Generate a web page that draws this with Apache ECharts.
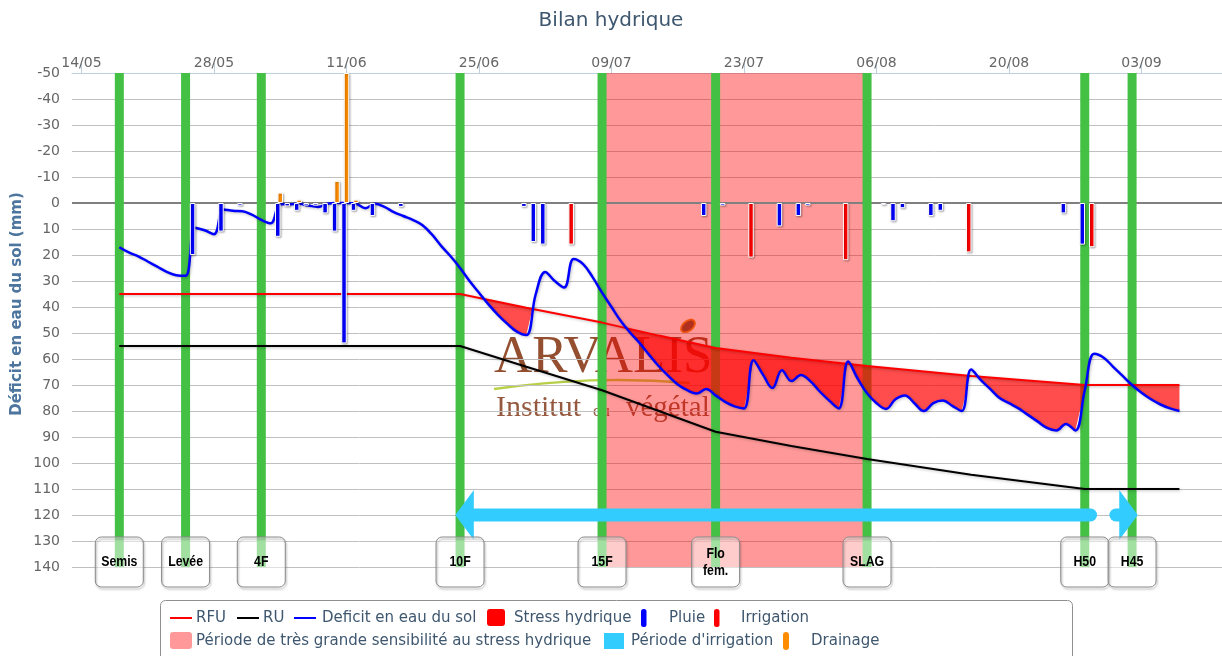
<!DOCTYPE html>
<html>
<head>
<meta charset="utf-8">
<title>Bilan hydrique</title>
<script src="https://cdn.jsdelivr.net/npm/echarts@6/dist/echarts.min.js"></script>
<style>
html, body { margin: 0; padding: 0; background: #fff; }
#chart { width: 1222px; height: 656px; }
</style>
</head>
<body>
<div id="chart"></div>
<script>
// days are counted from 13/05 (day 0)
var dateTicks = [1, 15, 29, 43, 57, 71, 85, 99, 113];
var dateLabels = ['14/05', '28/05', '11/06', '25/06', '09/07', '23/07', '06/08', '20/08', '03/09'];

var stageDays = [5, 12, 20, 41, 56, 68, 84, 107, 112];
var stageNames = ['Semis', 'Levée', '4F', '10F', '15F', 'Flo\nfem.', 'SLAG', 'H50', 'H45'];

// période de très grande sensibilité
var sensFrom = 56;
var sensTo = 84;

// période d'irrigation (two arrows)
var irrigFrom = [40.5, 109.6];
var irrigTo = [108.3, 112.6];
var irrigHead = [0, 1]; // 0 = head at start, 1 = head at end
var irrigLevel = 120;

var rfuDays = [5, 41, 48, 56, 62, 68, 76, 84, 95, 107, 117];
var rfuVals = [35, 35, 40.3, 46, 51, 55.8, 59.5, 62.7, 66.5, 70, 70];
var ruDays = [5, 41, 48, 56, 62, 68, 76, 84, 95, 107, 117];
var ruVals = [55, 55, 63, 72, 80, 88, 93.5, 98.5, 104.5, 110, 110];

var deficitFirstDay = 5;
var deficit = [
  17, 19, 20.5, 22.5, 24.5, 26.5, 27.8, 28, 9.5, 10.5,     // d5-14
  12, 2.5, 3, 3.2, 4.5, 6.5, 7.8, 0.5, 0.5, 0.3,           // d15-24
  1, 1.5, 0.3, 0, 0, 0.3, 2, 0.3, 1.5, 3.5,                // d25-34
  5, 6.5, 8.5, 12, 16.5, 20.5, 25, 30, 34.5, 39,           // d35-44
  43, 46.5, 49.5, 50.8, 35, 26.5, 30, 32.5, 21.5, 23.5,    // d45-54
  28.5, 34.5, 40, 45.5, 50, 54, 58.5, 62.8, 66.5, 69.8,    // d55-64
  72, 73.3, 71.5, 74, 76.5, 78.2, 79, 60.5, 66, 71.2,      // d65-74
  64.3, 68.5, 66.2, 68.5, 72.5, 76, 79, 61, 67.5, 73.2,    // d75-84
  77, 79.2, 75.5, 74, 77, 80, 77, 76, 78, 80,              // d85-94
  64, 68, 71.5, 75, 77, 79, 81.5, 84, 86.5, 87.5,          // d95-104
  85, 87.5, 72, 58, 59.5, 63, 66.5, 70, 73, 75.5,          // d105-114
  77.5, 79, 80                                              // d115-117
];

var rainDays = [12, 15, 17, 21, 22, 23, 24, 25, 26, 27, 28, 29, 31, 34, 47, 48, 49, 66, 68, 74, 76, 77, 85, 86, 87, 90, 91, 104, 106];
var rainVals = [20, 11, 1, 13, 1.3, 3, 1, 1, 4, 11, 54, 3, 5, 1.5, 1.5, 15, 16, 5, 1, 9, 5, 1, 0.7, 7, 2, 5, 3, 4, 16];
var irrigDays = [52, 71, 81, 94, 107];
var irrigVals = [16, 21, 22, 19, 17];
var drainDays = [21, 23, 27, 28, 29];
var drainVals = [-4, -1.3, -8.5, -50, -1.3];

var FONT = 'DejaVu Sans';
var RAIN_SHIFT = 0.74;
var DRAIN_SHIFT = 1.0;

function pairs(days, vals, shift) {
  return days.map(function (d, i) { return [d + (shift || 0), vals[i]]; });
}

function rfuAt(d) {
  for (var i = 1; i < rfuDays.length; i++) {
    if (d <= rfuDays[i]) {
      var t = (d - rfuDays[i - 1]) / (rfuDays[i] - rfuDays[i - 1]);
      return rfuVals[i - 1] + t * (rfuVals[i] - rfuVals[i - 1]);
    }
  }
  return rfuVals[rfuVals.length - 1];
}

// areas where the deficit is bigger than RFU
function stressPolygons() {
  var polys = [], top = [], bot = [];
  for (var i = 0; i < deficit.length; i++) {
    var d = deficitFirstDay + i, v = deficit[i], r = rfuAt(d), diff = v - r;
    if (i > 0) {
      var pd = d - 1, pv = deficit[i - 1], pdiff = pv - rfuAt(pd);
      if ((pdiff > 0) !== (diff > 0)) {
        var t = pdiff / (pdiff - diff);
        var cp = [pd + t, pv + t * (v - pv)];
        top.push(cp); bot.push(cp);
        if (pdiff > 0) {
          polys.push(top.concat(bot.reverse()));
          top = []; bot = [];
        }
      }
    }
    if (diff > 0) { top.push([d, v]); bot.push([d, r]); }
  }
  if (top.length) polys.push(top.concat(bot.reverse()));
  return polys;
}

var chart = echarts.init(document.getElementById('chart'));

var barStyle = function (color) {
  return {
    color: color, borderColor: '#fff', borderWidth: 1,
    shadowColor: 'rgba(0,0,0,0.3)', shadowBlur: 2, shadowOffsetX: 1, shadowOffsetY: 1
  };
};
var lineShadow = { shadowColor: 'rgba(0,0,0,0.25)', shadowBlur: 3, shadowOffsetX: 1, shadowOffsetY: 1 };

// legend drawn by hand, two rows
function lgText(x, y, s) {
  return { type: 'text', x: x, y: y, style: { text: s, fontSize: 15, fontFamily: FONT, fill: '#3E576F', verticalAlign: 'middle' } };
}
function lgLine(x, y, c) {
  return { type: 'line', shape: { x1: x, y1: y, x2: x + 22, y2: y }, style: { stroke: c, lineWidth: 2 } };
}
function lgRect(x, y, w, h, r, c) {
  return { type: 'rect', shape: { x: x, y: y, width: w, height: h, r: r }, style: { fill: c } };
}
var legendEls = [
  { type: 'rect', shape: { x: 160.5, y: 600.5, width: 912, height: 70, r: 5 }, style: { fill: '#fff', stroke: '#909090', lineWidth: 1 } },
  lgLine(170, 618, '#ff0000'), lgText(196, 618, 'RFU'),
  lgLine(237, 618, '#000000'), lgText(263, 618, 'RU'),
  lgLine(294, 618, '#0000ff'), lgText(322, 618, 'Deficit en eau du sol'),
  lgRect(487, 609, 18, 17, 3, '#ff0000'), lgText(514, 618, 'Stress hydrique'),
  lgRect(641, 609, 5.5, 18, 2.5, '#0000ff'), lgText(669, 618, 'Pluie'),
  lgRect(714, 609, 5.5, 18, 2.5, '#ff0000'), lgText(741, 618, 'Irrigation'),
  lgRect(170, 632, 22, 17, 3, 'rgba(255,0,0,0.4)'), lgText(196, 641, 'Période de très grande sensibilité au stress hydrique'),
  lgRect(604, 633, 20, 16, 0, '#33ccff'), lgText(631, 641, "Période d'irrigation"),
  lgRect(783, 632, 6, 18, 3, '#ff8c00'), lgText(811, 641, 'Drainage')
];

// ARVALIS watermark
var SERIF = 'Liberation Serif';
var logoEls = [
  { type: 'text', x: 494, y: 358, z: 0, style: { text: 'ARVALIS', fontSize: 53, fontFamily: SERIF, fill: 'rgba(128,48,10,0.85)', verticalAlign: 'middle' } },
  { type: 'ellipse', x: 688, y: 326, rotation: 0.7, z: 0, shape: { cx: 0, cy: 0, rx: 8, ry: 5 }, style: { fill: 'rgba(110,60,30,0.9)', stroke: 'rgba(230,140,20,0.9)', lineWidth: 2 } },
  { type: 'bezierCurve', z: 0, shape: { x1: 494, y1: 389, cpx1: 560, cpy1: 380, x2: 690, y2: 383, cpx2: 620, cpy2: 377 }, style: { stroke: 'rgba(170,200,40,0.85)', lineWidth: 2.5, fill: null } },
  { type: 'text', x: 496, y: 408, z: 0, style: { text: 'Institut', fontSize: 30, fontFamily: SERIF, fill: 'rgba(130,60,30,0.85)', verticalAlign: 'middle' } },
  { type: 'text', x: 593, y: 412, z: 0, style: { text: 'du', fontSize: 17, fontFamily: SERIF, fill: 'rgba(130,60,30,0.85)', verticalAlign: 'middle' } },
  { type: 'text', x: 626, y: 408, z: 0, style: { text: 'végétal', fontSize: 29, fontFamily: SERIF, fill: 'rgba(130,60,30,0.85)', verticalAlign: 'middle' } }
];

var option = {
  animation: false,
  backgroundColor: '#fff',
  title: {
    text: 'Bilan hydrique', left: 'center', top: 6,
    textStyle: { fontSize: 20, fontWeight: 'normal', color: '#3E576F', fontFamily: FONT }
  },
  grid: { left: 72, right: 0, top: 73, bottom: 89 },
  xAxis: {
    type: 'value', position: 'top', min: 0, max: 121.5,
    axisLine: { show: true, onZero: false, lineStyle: { color: '#C0D0E0', width: 1 } },
    axisTick: { show: true, length: 10, customValues: dateTicks, lineStyle: { color: '#C0D0E0' } },
    axisLabel: {
      customValues: dateTicks, margin: 3, fontSize: 14, fontFamily: FONT, color: '#666',
      formatter: function (v) { return dateLabels[dateTicks.indexOf(v)]; }
    },
    splitLine: { show: false }
  },
  yAxis: {
    type: 'value', inverse: true, min: -50, max: 140, interval: 10,
    axisLine: { show: false }, axisTick: { show: false },
    axisLabel: { margin: 12, fontSize: 14, fontFamily: FONT, color: '#666' },
    splitLine: { lineStyle: { color: '#C0C0C0', width: 1 } }
  },
  graphic: [
    {
      type: 'text', x: 17, y: 304, rotation: Math.PI / 2,
      style: { text: 'Déficit en eau du sol (mm)', fontSize: 15, fontWeight: 'bold', fontFamily: FONT, fill: '#4D759E', align: 'center', verticalAlign: 'middle' }
    }
  ].concat(logoEls, legendEls),
  series: [
    {
      name: 'Période de très grande sensibilité au stress hydrique', type: 'custom', z: 1, silent: true,
      data: [[sensFrom, sensTo]],
      renderItem: function (params, api) {
        var a = api.coord([api.value(0), -50]), b = api.coord([api.value(1), 140]);
        return { type: 'rect', shape: { x: a[0], y: a[1], width: b[0] - a[0], height: b[1] - a[1] }, style: { fill: 'rgba(255,0,0,0.4)' } };
      }
    },
    {
      name: 'zero', type: 'custom', z: 1, silent: true,
      data: [[0, 0]],
      renderItem: function (params, api) {
        var cs = params.coordSys, y = api.coord([0, 0])[1];
        return { type: 'line', shape: { x1: cs.x, y1: y, x2: cs.x + cs.width, y2: y }, style: { stroke: '#808080', lineWidth: 2 } };
      }
    },
    {
      name: 'stades', type: 'custom', z: 2, silent: true,
      data: stageDays.map(function (d) { return [d, 0]; }),
      renderItem: function (params, api) {
        var a = api.coord([api.value(0), -50]), b = api.coord([api.value(0), 140]);
        return { type: 'rect', shape: { x: a[0] - 4.5, y: a[1], width: 9, height: b[1] - a[1] }, style: { fill: '#44c044' } };
      }
    },
    {
      name: 'Stress hydrique', type: 'custom', z: 3, silent: true,
      data: [[deficitFirstDay, 0]],
      renderItem: function (params, api) {
        return {
          type: 'group',
          children: stressPolygons().map(function (pts) {
            return { type: 'polygon', shape: { points: pts.map(function (p) { return api.coord(p); }) }, style: { fill: 'rgba(255,0,0,0.7)' } };
          })
        };
      }
    },
    {
      name: 'RU', type: 'line', z: 4, showSymbol: false, silent: true,
      data: pairs(ruDays, ruVals),
      lineStyle: Object.assign({ color: '#000', width: 2 }, lineShadow)
    },
    {
      name: 'RFU', type: 'line', z: 4, showSymbol: false, silent: true,
      data: pairs(rfuDays, rfuVals),
      lineStyle: Object.assign({ color: '#ff0000', width: 2 }, lineShadow)
    },
    {
      name: 'Deficit en eau du sol', type: 'line', z: 5, showSymbol: false, silent: true,
      smooth: 0.4,
      data: deficit.map(function (v, i) { return [deficitFirstDay + i, v]; }),
      lineStyle: Object.assign({ color: '#0000ff', width: 2.5 }, lineShadow)
    },
    {
      name: 'Pluie', type: 'bar', z: 6, barWidth: 5.5, barGap: '-100%', silent: true,
      data: pairs(rainDays, rainVals, RAIN_SHIFT), itemStyle: barStyle('#0000ff')
    },
    {
      name: 'Irrigation', type: 'bar', z: 6, barWidth: 5.5, barGap: '-100%', silent: true,
      data: pairs(irrigDays, irrigVals, RAIN_SHIFT), itemStyle: barStyle('#ff0000')
    },
    {
      name: 'Drainage', type: 'bar', z: 6, barWidth: 5.5, barGap: '-100%', silent: true,
      data: pairs(drainDays, drainVals, DRAIN_SHIFT), itemStyle: barStyle('#ff8c00')
    },
    {
      name: "Période d'irrigation", type: 'custom', z: 7, silent: true,
      data: irrigFrom.map(function (f, i) { return [f, irrigLevel, irrigTo[i], irrigHead[i]]; }),
      renderItem: function (params, api) {
        var a = api.coord([api.value(0), api.value(1)]), b = api.coord([api.value(2), api.value(1)]);
        var y = a[1], HL = 18.5, HH = 25, T = 6.5, fill = '#33ccff', kids;
        if (api.value(3) === 0) {
          kids = [
            { type: 'polygon', shape: { points: [[a[0], y], [a[0] + HL, y - HH], [a[0] + HL, y + HH]] }, style: { fill: fill } },
            { type: 'rect', shape: { x: a[0] + HL - 1, y: y - T, width: b[0] - a[0] - HL + 1, height: 2 * T, r: [0, T, T, 0] }, style: { fill: fill } }
          ];
        } else {
          kids = [
            { type: 'rect', shape: { x: a[0], y: y - T, width: b[0] - a[0] - HL + 1, height: 2 * T, r: [T, 0, 0, T] }, style: { fill: fill } },
            { type: 'polygon', shape: { points: [[b[0], y], [b[0] - HL, y - HH], [b[0] - HL, y + HH]] }, style: { fill: fill } }
          ];
        }
        return { type: 'group', children: kids };
      }
    },
    {
      name: 'étiquettes', type: 'custom', z: 10, silent: true, clip: false,
      data: stageDays.map(function (d, i) { return [d, 140, i]; }),
      renderItem: function (params, api) {
        var c = api.coord([api.value(0), api.value(1)]);
        var x = c[0] - 24, y = c[1] - 30;
        return {
          type: 'group',
          children: [
            { type: 'rect', shape: { x: x, y: y, width: 48, height: 50, r: 6 }, style: { fill: 'rgba(255,255,255,0.5)' } },
            { type: 'rect', shape: { x: x, y: y, width: 48, height: 50, r: 6 }, style: { fill: null, stroke: '#8a8a8a', lineWidth: 1, shadowColor: 'rgba(0,0,0,0.35)', shadowBlur: 2, shadowOffsetX: 1, shadowOffsetY: 2 } },
            {
              type: 'text', x: c[0], y: y + 25, scaleX: 0.82,
              style: { text: stageNames[api.value(2)], align: 'center', verticalAlign: 'middle', fontSize: 15, fontWeight: 'bold', fontFamily: 'Liberation Sans', fill: '#000', lineHeight: 17 }
            }
          ]
        };
      }
    }
  ]
};

chart.setOption(option);
</script>
</body>
</html>
